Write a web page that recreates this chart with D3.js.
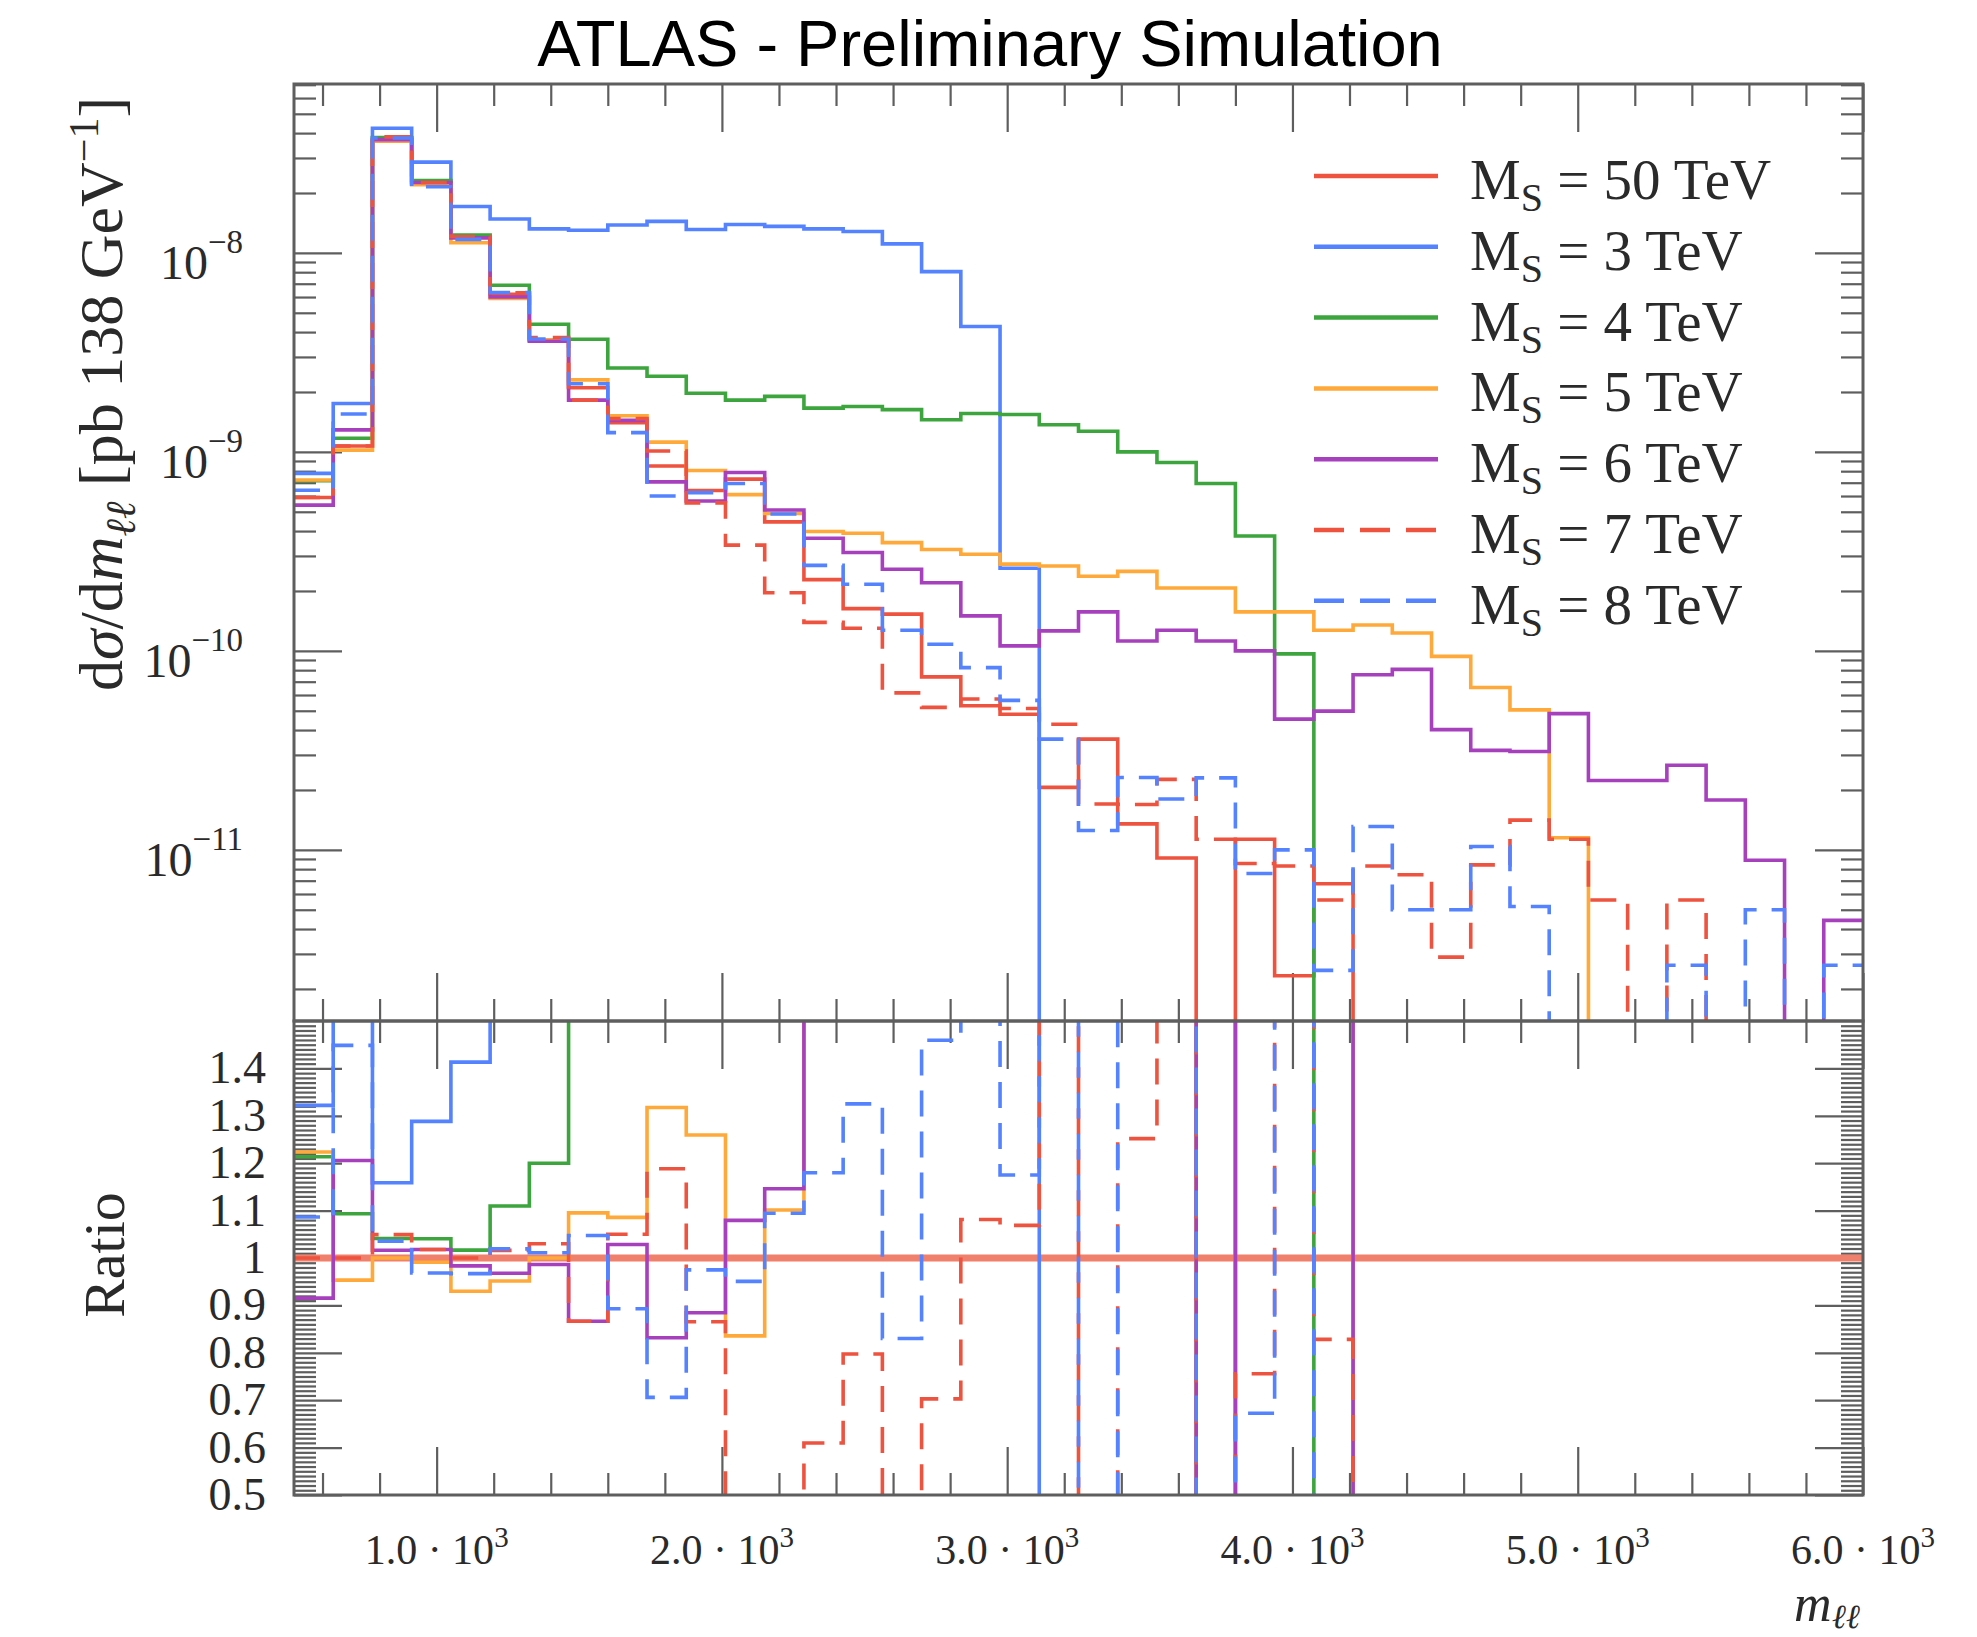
<!DOCTYPE html>
<html><head><meta charset="utf-8">
<script src="https://cdn.jsdelivr.net/npm/d3@7"></script>
<style>body{margin:0;background:#fff}svg{display:block}</style>
</head><body><svg id="c" width="1977" height="1637"></svg>
<script>
// ---------------- data ----------------
const binEdges = [500,637.5,775,912.5,1050,1187.5,1325,1462.5,1600,1737.5,1875,2012.5,2150,2287.5,2425,2562.5,2700,2837.5,2975,3112.5,
  3250,3387.5,3525,3662.5,3800,3937.5,4075,4212.5,4350,4487.5,4625,4762.5,4900,5037.5,5175,5312.5,5450,5587.5,5725,5862.5,6000];
const seriesLabels = ["50","3","4","5","6","7","8"];
const ms50 = [5.9e-10,1.07e-9,3.65e-8,2.22e-8,1.21e-8,6.2e-9,3.65e-9,2.1e-9,1.4e-9,8.5e-10,
  6.4e-10,7.3e-10,4.45e-10,2.28e-10,1.63e-10,1.53e-10,7.4e-11,5.3e-11,4.8e-11,2.06e-11,
  3.6e-11,1.35e-11,9.1e-12,0,1.13e-11,2.33e-12,6.76e-12,0,0,0,
  0,0,0,0,0,0,0,0,0,0];
const ms3 = [7.8e-10,1.75e-9,4.23e-8,2.86e-8,1.71e-8,1.48e-8,1.32e-8,1.3e-8,1.38e-8,1.44e-8,
  1.31e-8,1.39e-8,1.36e-8,1.32e-8,1.28e-8,1.11e-8,8.05e-9,4.27e-9,2.6e-10,0,
  0,0,0,0,0,0,0,0,0,0,
  0,0,0,0,0,0,0,0,0,0];
const ms4 = [7.16e-10,1.17e-9,3.8e-8,2.31e-8,1.23e-8,6.88e-9,4.38e-9,3.68e-9,2.64e-9,2.4e-9,
  1.97e-9,1.82e-9,1.9e-9,1.66e-9,1.69e-9,1.63e-9,1.45e-9,1.56e-9,1.54e-9,1.37e-9,
  1.27e-9,1.0e-9,8.85e-10,6.93e-10,3.78e-10,9.66e-11,0,0,0,0,
  0,0,0,0,0,0,0,0,0,0];
const ms5 = [7.22e-10,1.02e-9,3.65e-8,2.2e-8,1.125e-8,5.9e-9,3.65e-9,2.3e-9,1.52e-9,1.12e-9,
  8.06e-10,6.1e-10,4.9e-10,3.98e-10,3.9e-10,3.5e-10,3.23e-10,3.06e-10,2.73e-10,2.67e-10,
  2.37e-10,2.51e-10,2.07e-10,2.07e-10,1.57e-10,1.57e-10,1.27e-10,1.35e-10,1.23e-10,9.38e-11,
  6.54e-11,5.05e-11,1.15e-11,0,0,0,0,0,0,0];
const ms6 = [5.4e-10,1.29e-9,3.71e-8,2.26e-8,1.19e-8,6.0e-9,3.6e-9,1.82e-9,1.44e-9,7.07e-10,
  5.66e-10,7.88e-10,5.1e-10,3.68e-10,3.12e-10,2.57e-10,2.2e-10,1.5e-10,1.06e-10,1.26e-10,
  1.57e-10,1.12e-10,1.27e-10,1.12e-10,1.0e-10,4.54e-11,4.98e-11,7.59e-11,8.07e-11,4.02e-11,
  3.16e-11,3.12e-11,4.84e-11,2.23e-11,2.23e-11,2.66e-11,1.78e-11,8.87e-12,0,4.42e-12];
const ms7 = [5.9e-10,1.07e-9,3.83e-8,2.26e-8,1.21e-8,6.3e-9,3.76e-9,1.82e-9,1.47e-9,1.01e-9,
  5.54e-10,3.4e-10,1.96e-10,1.39e-10,1.3e-10,6.15e-11,5.2e-11,5.73e-11,5.13e-11,4.28e-11,
  1.7e-11,1.69e-11,2.26e-11,1.13e-11,8.54e-12,8.3e-12,5.6e-12,8.3e-12,7.5e-12,2.89e-12,
  8.4e-12,1.41e-11,1.13e-11,5.6e-12,0,5.6e-12,0,0,0,0];
const ms8 = [6.41e-10,1.55e-9,3.78e-8,2.15e-8,1.17e-8,6.32e-9,3.69e-9,2.2e-9,1.25e-9,6.0e-10,
  6.24e-10,6.94e-10,4.87e-10,2.69e-10,2.16e-10,1.27e-10,1.08e-10,8.24e-11,5.64e-11,3.6e-11,
  1.25e-11,2.31e-11,1.8e-11,2.3e-11,7.6e-12,1.0e-11,2.48e-12,1.31e-11,5.0e-12,5.0e-12,
  1.04e-11,5.19e-12,0,0,0,2.63e-12,0,5.0e-12,0,2.63e-12];
const yTickExponents = [-8,-9,-10,-11];
const ratioTickValues = [1.4,1.3,1.2,1.1,1,0.9,0.8,0.7,0.6,0.5];
const ratioTickLabels = ["1.4","1.3","1.2","1.1","1","0.9","0.8","0.7","0.6","0.5"];
const xTickValues = [1000,2000,3000,4000,5000,6000];
const xTickLabels = ["1.0","2.0","3.0","4.0","5.0","6.0"];

// ---------------- layout ----------------
const L = 294, R = 1863, T = 84, M = 1021, B = 1495;
const FRAME = "#5e5e5e", TXT = "#2a2a2a";
const SERIF = "'Liberation Serif','Times New Roman',serif";
const x = d3.scaleLinear().domain([500, 6000]).range([L, R]);
const y = d3.scaleLog().domain([1.38e-12, 7.06e-8]).range([M, T]);
const yr = d3.scaleLinear().domain([0.5, 1.5]).range([B, M]);

const RED = "#ee533f", BLUE = "#5582ff", GREEN = "#3da53d", ORANGE = "#ffa93a", PURPLE = "#a640bd";
const series = [
  {vals: ms50, color: RED, dash: null},
  {vals: ms3, color: BLUE, dash: null},
  {vals: ms4, color: GREEN, dash: null},
  {vals: ms5, color: ORANGE, dash: null},
  {vals: ms6, color: PURPLE, dash: null},
  {vals: ms7, color: RED, dash: "26 15"},
  {vals: ms8, color: BLUE, dash: "26 15"}
];

const svg = d3.select("#c");
const defs = svg.append("defs");
defs.append("clipPath").attr("id","clipMain").append("rect")
  .attr("x",L).attr("y",T).attr("width",R-L).attr("height",M-T);
defs.append("clipPath").attr("id","clipRatio").append("rect")
  .attr("x",L).attr("y",M).attr("width",R-L).attr("height",B-M);

function stepPath(vals, fy) {
  const pts = [];
  vals.forEach((v, i) => {
    const yy = fy(v);
    pts.push([x(binEdges[i]), yy], [x(binEdges[i+1]), yy]);
  });
  return d3.line()(pts);
}

// ---------------- ticks (via d3 axes) ----------------
function tickAxis(axisFn, scale, values, size, tx, ty) {
  const a = axisFn(scale).tickValues(values).tickSize(size).tickFormat("");
  const g = svg.append("g").attr("transform", `translate(${tx},${ty})`).call(a);
  g.select(".domain").remove();
  g.selectAll("line").attr("stroke", FRAME).attr("stroke-width", 2.2);
}
const logMajor = yTickExponents.map(e => Math.pow(10, e));
const logMinor = [];
for (let d = -12; d <= -8; d++) for (let k = 2; k <= 9; k++) {
  const v = k * Math.pow(10, d);
  if (v > y.domain()[0] && v < y.domain()[1]) logMinor.push(v);
}
tickAxis(d3.axisLeft, y, logMajor, -48, L, 0);
tickAxis(d3.axisLeft, y, logMinor, -22, L, 0);
tickAxis(d3.axisRight, y, logMajor, -48, R, 0);
tickAxis(d3.axisRight, y, logMinor, -22, R, 0);
const rMinor = d3.range(51, 150).filter(k => k % 10 !== 0).map(k => k / 100);
tickAxis(d3.axisLeft, yr, ratioTickValues, -48, L, 0);
tickAxis(d3.axisLeft, yr, rMinor, -22, L, 0);
tickAxis(d3.axisRight, yr, ratioTickValues, -48, R, 0);
tickAxis(d3.axisRight, yr, rMinor, -22, R, 0);
const xMinor = d3.range(600, 6000, 200).filter(v => v % 1000 !== 0);
[[d3.axisTop, T], [d3.axisBottom, M], [d3.axisTop, M], [d3.axisBottom, B]].forEach(([fn, yy]) => {
  tickAxis(fn, x, xTickValues, -48, 0, yy);
  tickAxis(fn, x, xMinor, -22, 0, yy);
});

// ---------------- histograms ----------------
const gMain = svg.append("g").attr("clip-path", "url(#clipMain)");
series.forEach(s => {
  gMain.append("path")
    .attr("d", stepPath(s.vals, v => v > 0 ? y(v) : M + 40))
    .attr("fill", "none").attr("stroke", s.color).attr("stroke-width", 3.6)
    .attr("stroke-dasharray", s.dash).attr("stroke-linejoin", "miter");
});

const gRatio = svg.append("g").attr("clip-path", "url(#clipRatio)");
gRatio.append("path")
  .attr("d", d3.line()([[x(binEdges[0]), yr(1)], [x(binEdges[binEdges.length-1]), yr(1)]]))
  .attr("stroke", "#f07f6b").attr("stroke-width", 7).attr("fill", "none");
series.slice(1).forEach(s => {
  const ratios = s.vals.map((v, i) => ms50[i] > 0 ? v / ms50[i] : 0);
  gRatio.append("path")
    .attr("d", stepPath(ratios, r => yr(Math.max(0.4, Math.min(1.6, r)))))
    .attr("fill", "none").attr("stroke", s.color).attr("stroke-width", 3.6)
    .attr("stroke-dasharray", s.dash);
});

// ---------------- frames ----------------
svg.append("rect").attr("x", L).attr("y", T).attr("width", R-L).attr("height", M-T)
  .attr("fill", "none").attr("stroke", FRAME).attr("stroke-width", 3);
svg.append("rect").attr("x", L).attr("y", M).attr("width", R-L).attr("height", B-M)
  .attr("fill", "none").attr("stroke", FRAME).attr("stroke-width", 3);

// ---------------- labels ----------------
svg.append("text").attr("x", 990).attr("y", 66).attr("text-anchor", "middle")
  .attr("font-family", "'Liberation Sans',Arial,sans-serif").attr("font-size", 65)
  .attr("fill", "#000").text("ATLAS - Preliminary Simulation");

yTickExponents.forEach(e => {
  const t = svg.append("text").attr("x", 243).attr("y", y(Math.pow(10, e)) + 26)
    .attr("text-anchor", "end").attr("font-family", SERIF).attr("font-size", 48).attr("fill", TXT);
  t.append("tspan").text("10");
  t.append("tspan").attr("dy", -26).attr("font-size", 33).text("\u2212" + Math.abs(e));
});

ratioTickValues.forEach((v, i) => {
  svg.append("text").attr("x", 266).attr("y", yr(v) + 15).attr("text-anchor", "end")
    .attr("font-family", SERIF).attr("font-size", 46).attr("fill", TXT).text(ratioTickLabels[i]);
});

xTickValues.forEach((v, i) => {
  const t = svg.append("text").attr("x", x(v)).attr("y", 1564).attr("text-anchor", "middle")
    .attr("font-family", SERIF).attr("font-size", 42).attr("fill", TXT);
  t.append("tspan").text(xTickLabels[i] + " \u00b7 10");
  t.append("tspan").attr("dy", -17).attr("font-size", 29).text("3");
});

// x title
const xt = svg.append("text").attr("x", 1860).attr("y", 1621).attr("text-anchor", "end")
  .attr("font-family", SERIF).attr("font-size", 52).attr("fill", TXT).attr("font-style", "italic");
xt.append("tspan").text("m");
xt.append("tspan").attr("dy", 7).attr("font-size", 34).text("\u2113\u2113");

// y title
const yt = svg.append("text").attr("transform", "translate(122,394) rotate(-90)")
  .attr("text-anchor", "middle").attr("font-family", SERIF).attr("font-size", 62).attr("fill", TXT);
yt.append("tspan").text("d");
yt.append("tspan").attr("font-style", "italic").text("\u03c3");
yt.append("tspan").text("/d");
yt.append("tspan").attr("font-style", "italic").text("m");
yt.append("tspan").attr("font-style", "italic").attr("font-size", 42).attr("dy", 13).text("\u2113\u2113");
yt.append("tspan").attr("dy", -13).text(" [pb 138 GeV");
yt.append("tspan").attr("dy", -24).attr("font-size", 42).text("\u22121");
yt.append("tspan").attr("dy", 24).text("]");

svg.append("text").attr("transform", "translate(124,1255) rotate(-90)")
  .attr("text-anchor", "middle").attr("font-family", SERIF).attr("font-size", 58).attr("fill", TXT)
  .text("Ratio");

// ---------------- legend ----------------
series.forEach((s, i) => {
  const ly = 176 + i * 70.8;
  svg.append("path").attr("d", d3.line()([[1314, ly], [1438, ly]]))
    .attr("stroke", s.color).attr("stroke-width", 4.5).attr("stroke-dasharray", s.dash ? "30 16" : null);
  const t = svg.append("text").attr("x", 1470).attr("y", ly + 23)
    .attr("font-family", SERIF).attr("font-size", 57).attr("fill", TXT);
  t.append("tspan").text("M");
  t.append("tspan").attr("dy", 12).attr("font-size", 40).text("S");
  t.append("tspan").attr("dy", -12).text(" = " + seriesLabels[i] + " TeV");
});
</script>
</body></html>
